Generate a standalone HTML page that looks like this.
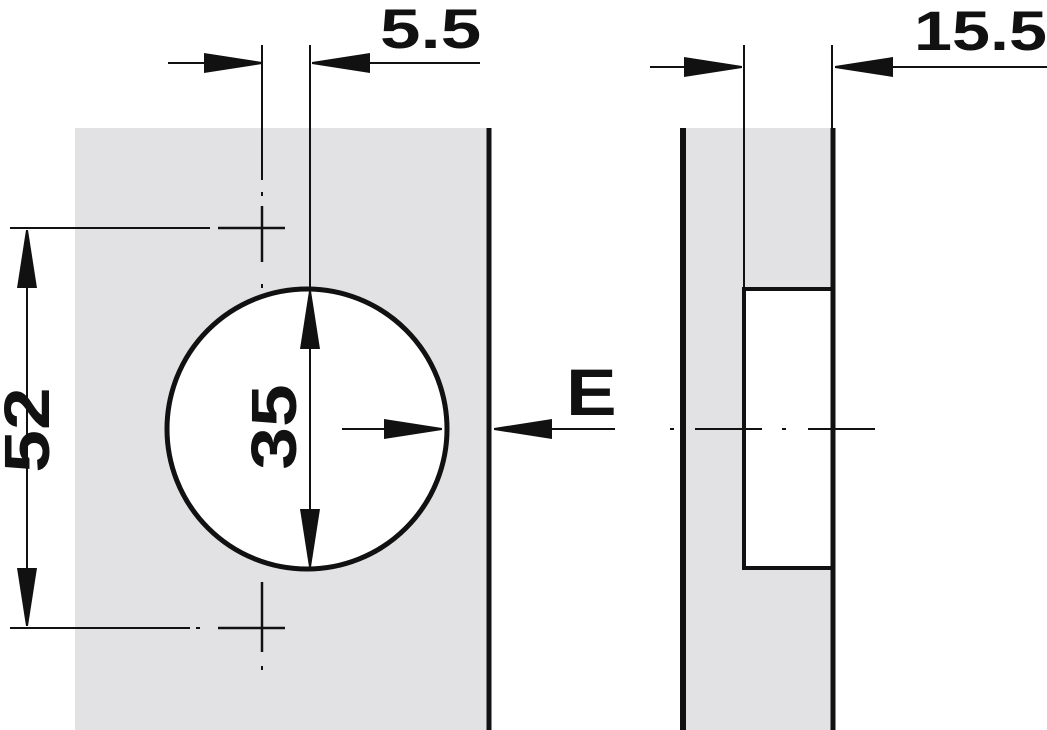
<!DOCTYPE html>
<html><head><style>html,body{margin:0;padding:0;background:#fff}svg{display:block}text{font-family:"Liberation Sans",sans-serif;font-weight:bold;fill:#111}</style></head>
<body>
<svg width="1047" height="730" viewBox="0 0 1047 730" xmlns="http://www.w3.org/2000/svg">
<defs>
<marker id="a" viewBox="0 0 58 20" refX="58" refY="10" markerWidth="58" markerHeight="20" markerUnits="userSpaceOnUse" orient="auto"><path d="M0,0 L58,9 L58,11 L0,20 Z" fill="#111"/></marker>
</defs>
<g stroke="#111" fill="none">
<rect x="75" y="128" width="413" height="602" fill="#e2e2e4" stroke="none"/>
<line x1="489" y1="128" x2="489" y2="730" stroke-width="5"/>
<circle cx="307" cy="429" r="140" fill="#fff" stroke-width="5"/>
<line x1="310" y1="45" x2="310" y2="290" stroke-width="2"/>
<line x1="262" y1="45" x2="262" y2="180" stroke-width="2"/>
<line x1="262" y1="192" x2="262" y2="196" stroke-width="2"/>
<line x1="262" y1="206" x2="262" y2="262" stroke-width="2.5"/>
<line x1="262" y1="284" x2="262" y2="288" stroke-width="2"/>
<line x1="262" y1="582" x2="262" y2="652" stroke-width="2.5"/>
<line x1="262" y1="666" x2="262" y2="670" stroke-width="2"/>
<line x1="10" y1="228" x2="210" y2="228" stroke-width="2"/>
<line x1="218" y1="228" x2="285" y2="228" stroke-width="2.5"/>
<line x1="10" y1="628" x2="190" y2="628" stroke-width="2"/>
<line x1="196" y1="628" x2="200" y2="628" stroke-width="2"/>
<line x1="218" y1="628" x2="285" y2="628" stroke-width="2.5"/>
<line x1="168" y1="63" x2="262" y2="63" stroke-width="2" marker-end="url(#a)"/>
<line x1="480" y1="63" x2="312" y2="63" stroke-width="2" marker-end="url(#a)"/>
<line x1="27" y1="330" x2="27" y2="230" stroke-width="2" marker-end="url(#a)"/>
<line x1="27" y1="330" x2="27" y2="626" stroke-width="2" marker-end="url(#a)"/>
<line x1="310" y1="420" x2="310" y2="291" stroke-width="2" marker-end="url(#a)"/>
<line x1="310" y1="420" x2="310" y2="567" stroke-width="2" marker-end="url(#a)"/>
<line x1="342" y1="429" x2="442" y2="429" stroke-width="2" marker-end="url(#a)"/>
<line x1="615" y1="429" x2="494" y2="429" stroke-width="2" marker-end="url(#a)"/>
<rect x="683" y="128" width="150" height="602" fill="#e2e2e4" stroke="none"/>
<rect x="744" y="289" width="89" height="279" fill="#fff" stroke-width="4"/>
<line x1="683" y1="128" x2="683" y2="730" stroke-width="6"/>
<line x1="833" y1="128" x2="833" y2="730" stroke-width="5"/>
<line x1="744" y1="45" x2="744" y2="290" stroke-width="2"/>
<line x1="832" y1="45" x2="832" y2="130" stroke-width="2"/>
<line x1="650" y1="67" x2="742" y2="67" stroke-width="2" marker-end="url(#a)"/>
<line x1="1047" y1="67" x2="835" y2="67" stroke-width="2" marker-end="url(#a)"/>
<line x1="670" y1="429" x2="674" y2="429" stroke-width="2"/>
<line x1="695" y1="429" x2="762" y2="429" stroke-width="2"/>
<line x1="782" y1="429" x2="786" y2="429" stroke-width="2"/>
<line x1="808" y1="429" x2="875" y2="429" stroke-width="2"/>
</g>
<text transform="translate(380,48) scale(1.3,1)" font-size="56">5.5</text>
<text transform="translate(914,50) scale(1.22,1)" font-size="56">15.5</text>
<text transform="translate(566,415) scale(1.15,1)" font-size="66">E</text>
<text transform="translate(49,430) rotate(-90) scale(1.2,1)" font-size="64" text-anchor="middle">52</text>
<text transform="translate(296,427) rotate(-90) scale(1.2,1)" font-size="64" text-anchor="middle">35</text>
</svg>
</body></html>
